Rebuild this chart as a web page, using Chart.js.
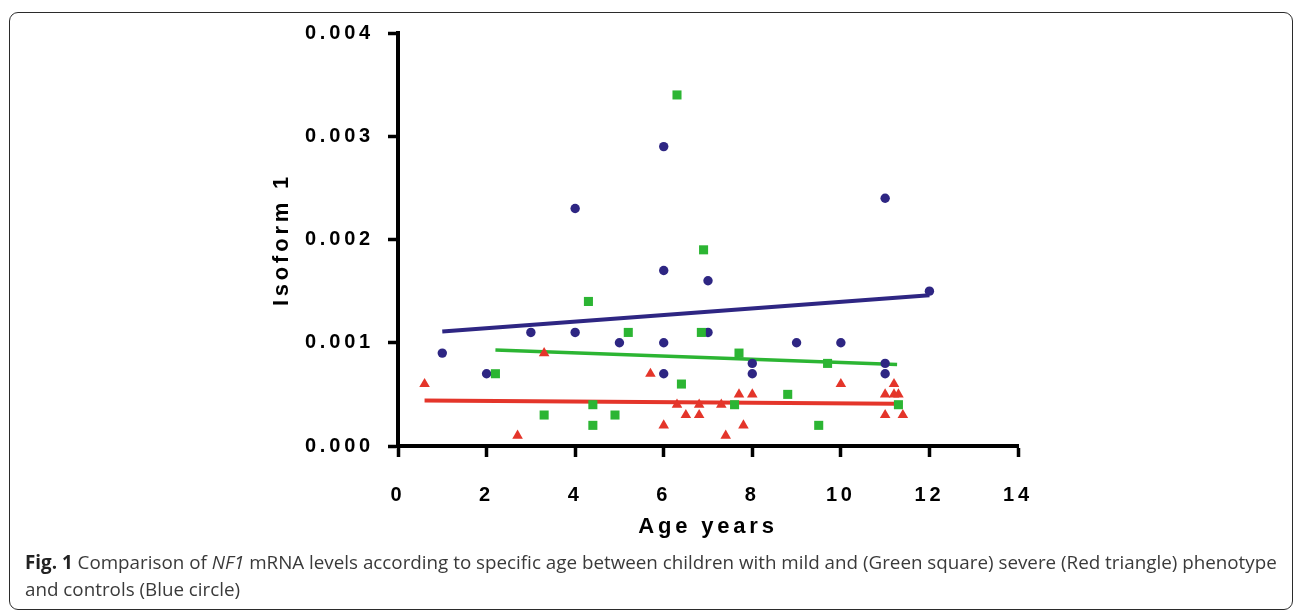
<!DOCTYPE html>
<html><head><meta charset="utf-8">
<script src="https://cdn.jsdelivr.net/npm/chart.js@4/dist/chart.umd.min.js"></script>
<style>
html,body{margin:0;padding:0;background:#fff;width:1295px;height:613px;overflow:hidden;}
#wrap{position:relative;width:1295px;height:613px;}
#c{position:absolute;left:0;top:0;}
#frame{position:absolute;left:9px;top:12px;width:1284px;height:598px;box-sizing:border-box;border:1.5px solid #2b2b2b;border-radius:9px;pointer-events:none;}
#cap{position:absolute;left:25px;top:549px;font-family:"Open Sans";font-size:15px;line-height:27px;color:#3a3a3a;white-space:nowrap;}
#cap b{color:#222;}
</style></head>
<body>
<div id="wrap">
<canvas id="c" width="1295" height="613"></canvas>
<div id="frame"></div>
<div id="cap"><span id="l1"><b>Fig. 1</b> Comparison of <i>NF1</i> mRNA levels according to specific age between children with mild and (Green square) severe (Red triangle) phenotype</span><br>and controls (Blue circle)</div>
</div>
<script>
// Controls (Blue circle)
const controlAge = [1, 2, 3, 4, 4, 5, 6, 6, 6, 6, 7, 7, 8, 8, 9, 10, 11, 11, 11, 12];
const controlIso = [0.0009, 0.0007, 0.0011, 0.0011, 0.0023, 0.0010, 0.0029, 0.0017, 0.0010, 0.0007, 0.0016, 0.0011, 0.0008, 0.0007, 0.0010, 0.0010, 0.0024, 0.0008, 0.0007, 0.0015];
// Mild phenotype (Green square)
const mildAge = [2.2, 3.3, 4.3, 4.4, 4.4, 4.9, 5.2, 6.3, 6.4, 6.85, 6.9, 7.6, 7.7, 8.8, 9.5, 9.7, 11.3];
const mildIso = [0.0007, 0.0003, 0.0014, 0.0004, 0.0002, 0.0003, 0.0011, 0.0034, 0.0006, 0.0011, 0.0019, 0.0004, 0.0009, 0.0005, 0.0002, 0.0008, 0.0004];
// Severe phenotype (Red triangle)
const severeAge = [0.6, 2.7, 3.3, 5.7, 6.0, 6.3, 6.5, 6.8, 6.8, 7.3, 7.4, 7.7, 7.8, 8.0, 10.0, 11.0, 11.0, 11.2, 11.2, 11.3, 11.4];
const severeIso = [0.0006, 0.0001, 0.0009, 0.0007, 0.0002, 0.0004, 0.0003, 0.0004, 0.0003, 0.0004, 0.0001, 0.0005, 0.0002, 0.0005, 0.0006, 0.0005, 0.0003, 0.0006, 0.0005, 0.0005, 0.0003];
// Fitted lines (end points)
const controlFitAge = [1, 12];
const controlFitIso = [0.00111, 0.00146];
const mildFitAge = [2.2, 11.27];
const mildFitIso = [0.00093, 0.00079];
const severeFitAge = [0.6, 11.25];
const severeFitIso = [0.00044, 0.00041];
// Tick labels
const xTickValues = [0, 2, 4, 6, 8, 10, 12, 14];
const xTickLabels = ['0', '2', '4', '6', '8', '10', '12', '14'];
const yTickValues = [0, 0.001, 0.002, 0.003, 0.004];
const yTickLabels = ['0.000', '0.001', '0.002', '0.003', '0.004'];

const BLUE = '#2e2683', GREEN = '#2cb533', RED = '#e4352a';
const pts = (xs, ys) => xs.map((x, i) => ({x: x, y: ys[i]}));
const lbl = (vals, labels) => (v) => { const i = vals.findIndex(t => Math.abs(t - v) < 1e-9); return i >= 0 ? labels[i] : ''; };

const spacing = {
  id: 'spacing',
  beforeLayout(c) { c.ctx.letterSpacing = '3.8px'; },
  beforeDraw(c) { c.ctx.letterSpacing = '3.8px'; }
};

new Chart(document.getElementById('c'), {
  type: 'scatter',
  data: {
    datasets: [
      {data: pts(controlFitAge, controlFitIso), showLine: true, borderColor: BLUE, borderWidth: 4, pointRadius: 0, order: 12},
      {data: pts(mildFitAge, mildFitIso), showLine: true, borderColor: GREEN, borderWidth: 3.5, pointRadius: 0, order: 11},
      {data: pts(severeFitAge, severeFitIso), showLine: true, borderColor: RED, borderWidth: 4, pointRadius: 0, order: 10},
      {data: pts(controlAge, controlIso), pointStyle: 'circle', pointRadius: 4.7, backgroundColor: BLUE, borderWidth: 0, order: 3},
      {data: pts(severeAge, severeIso), pointStyle: 'triangle', pointRadius: 6.1, backgroundColor: RED, borderWidth: 0, order: 2},
      {data: pts(mildAge, mildIso), pointStyle: 'rect', pointRadius: 6.4, backgroundColor: GREEN, borderWidth: 0, order: 1}
    ]
  },
  options: {
    responsive: false,
    animation: false,
    events: [],
    layout: {padding: {left: 0, top: 33, right: 277, bottom: 67}},
    plugins: {legend: {display: false}, tooltip: {enabled: false}},
    scales: {
      x: {
        type: 'linear', min: 0, max: 14,
        afterBuildTicks(s) { s.ticks = xTickValues.map(v => ({value: v})); },
        afterFit(s) { s.height = 100; },
        border: {display: true, color: '#000', width: 4},
        grid: {display: true, drawOnChartArea: false, drawTicks: true, tickLength: 11, tickWidth: 3.5, tickColor: '#000'},
        ticks: {callback: lbl(xTickValues, xTickLabels), color: '#000', padding: 26, maxRotation: 0, font: {family: 'Liberation Sans', weight: 'bold', size: 20}},
        title: {display: true, text: 'Age years', color: '#000', padding: {top: 0, bottom: 6}, font: {family: 'Liberation Sans', weight: 'bold', size: 22}}
      },
      y: {
        type: 'linear', min: 0, max: 0.004,
        afterBuildTicks(s) { s.ticks = yTickValues.map(v => ({value: v})); },
        afterFit(s) { s.width = 398; },
        border: {display: true, color: '#000', width: 4},
        grid: {display: true, drawOnChartArea: false, drawTicks: true, tickLength: 10, tickWidth: 3.5, tickColor: '#000'},
        ticks: {callback: lbl(yTickValues, yTickLabels), color: '#000', padding: 14, font: {family: 'Liberation Sans', weight: 'bold', size: 20}},
        title: {display: true, text: 'Isoform 1', color: '#000', padding: {top: 269, bottom: 0}, font: {family: 'Liberation Sans', weight: 'bold', size: 22}}
      }
    }
  },
  plugins: [spacing]
});

// fit caption first line to the reference width
(function () {
  const cap = document.getElementById('cap'), l1 = document.getElementById('l1');
  const target = 1252;
  let fs = 15;
  for (let k = 0; k < 6; k++) {
    cap.style.fontSize = fs + 'px';
    fs = fs * target / l1.getBoundingClientRect().width;
  }
  cap.style.fontSize = fs + 'px';
})();
</script>
</body></html>
